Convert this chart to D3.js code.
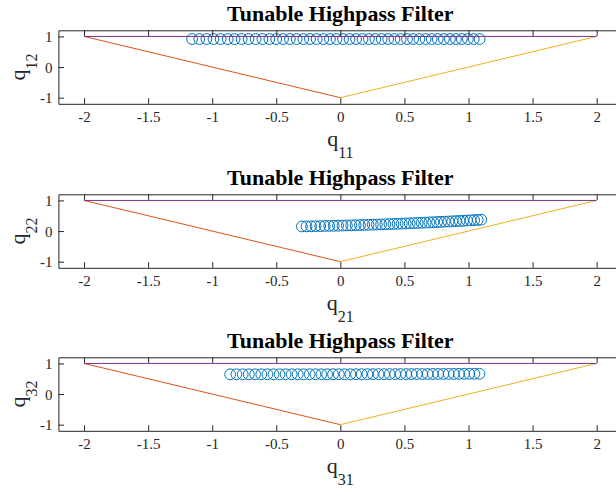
<!DOCTYPE html>
<html>
<head>
<meta charset="utf-8">
<script src="https://cdn.jsdelivr.net/npm/d3@7"></script>
<style>
  html, body { margin: 0; padding: 0; background: #fff; }
  svg { display: block; }
</style>
</head>
<body>
<svg id="chart" width="616" height="491"></svg>
<script>
// Pole trajectories of the tunable highpass filter, one panel per section.
const titleText = "Tunable Highpass Filter";
const xTickValues = [-2, -1.5, -1, -0.5, 0, 0.5, 1, 1.5, 2];
const xTickLabels = ["-2", "-1.5", "-1", "-0.5", "0", "0.5", "1", "1.5", "2"];
const yTickValues = [-1, 0, 1];
const yTickLabels = ["-1", "0", "1"];

// Stability triangle corners (q1, q2)
const triTop = [[-2, 1], [2, 1]];
const triLeft = [[-2, 1], [0, -1]];
const triRight = [[0, -1], [2, 1]];

// Section 1
const q11 = [-1.157, -1.101, -1.045, -0.990, -0.934, -0.879, -0.825, -0.770, -0.716, -0.661,
  -0.608, -0.554, -0.500, -0.447, -0.394, -0.341, -0.289, -0.237, -0.185, -0.133,
  -0.081, -0.030, 0.021, 0.072, 0.123, 0.173, 0.223, 0.273, 0.323, 0.373,
  0.422, 0.471, 0.520, 0.568, 0.617, 0.665, 0.713, 0.760, 0.808, 0.855,
  0.902, 0.948, 0.995, 1.041, 1.087];
const q12 = [0.915, 0.915, 0.915, 0.915, 0.915, 0.915, 0.915, 0.915, 0.915, 0.915,
  0.915, 0.915, 0.915, 0.915, 0.915, 0.915, 0.915, 0.915, 0.915, 0.915,
  0.915, 0.915, 0.915, 0.915, 0.915, 0.915, 0.915, 0.915, 0.915, 0.915,
  0.915, 0.915, 0.915, 0.915, 0.915, 0.915, 0.915, 0.915, 0.915, 0.915,
  0.915, 0.915, 0.915, 0.915, 0.915];

// Section 2
const q21 = [-0.300, -0.264, -0.228, -0.193, -0.157, -0.122, -0.087, -0.052, -0.018, 0.017,
  0.051, 0.085, 0.119, 0.153, 0.186, 0.220, 0.253, 0.285, 0.318, 0.351,
  0.383, 0.415, 0.447, 0.479, 0.510, 0.541, 0.573, 0.603, 0.634, 0.665,
  0.695, 0.725, 0.755, 0.785, 0.814, 0.844, 0.873, 0.902, 0.931, 0.959,
  0.988, 1.016, 1.044, 1.072, 1.099];
const q22 = [0.150, 0.153, 0.155, 0.158, 0.161, 0.165, 0.168, 0.171, 0.175, 0.179,
  0.183, 0.187, 0.191, 0.195, 0.199, 0.204, 0.208, 0.213, 0.217, 0.222,
  0.227, 0.232, 0.238, 0.243, 0.248, 0.253, 0.259, 0.264, 0.270, 0.276,
  0.282, 0.288, 0.294, 0.300, 0.306, 0.312, 0.318, 0.324, 0.331, 0.337,
  0.344, 0.350, 0.357, 0.363, 0.370];

// Section 3
const q31 = [-0.860, -0.811, -0.762, -0.714, -0.665, -0.617, -0.569, -0.522, -0.474, -0.427,
  -0.380, -0.333, -0.287, -0.240, -0.194, -0.148, -0.103, -0.057, -0.012, 0.033,
  0.078, 0.122, 0.166, 0.211, 0.254, 0.298, 0.342, 0.385, 0.428, 0.470,
  0.513, 0.555, 0.597, 0.639, 0.681, 0.722, 0.763, 0.804, 0.845, 0.886,
  0.926, 0.966, 1.006, 1.046, 1.085];
const q32 = [0.645, 0.645, 0.645, 0.645, 0.645, 0.645, 0.645, 0.645, 0.645, 0.645,
  0.645, 0.645, 0.645, 0.646, 0.646, 0.646, 0.646, 0.647, 0.647, 0.647,
  0.648, 0.648, 0.648, 0.649, 0.649, 0.650, 0.650, 0.651, 0.651, 0.652,
  0.652, 0.653, 0.654, 0.654, 0.655, 0.656, 0.656, 0.657, 0.658, 0.658,
  0.659, 0.660, 0.661, 0.662, 0.663];

const panels = [
  { xs: q11, ys: q12, xSub: "11", ySub: "12", top: 30.3 },
  { xs: q21, ys: q22, xSub: "21", ySub: "22", top: 194.3 },
  { xs: q31, ys: q32, xSub: "31", ySub: "32", top: 357.3 }
];

const axColor = "#262626";
const serif = "'Liberation Serif', 'Times New Roman', Times, serif";
const left = 58.4, plotW = 563.9, plotH = 73.5;
const tickLen = 5.6;

const svg = d3.select("#chart");

const x = d3.scaleLinear().domain([-2.2, 2.2]).range([0, plotW]);

panels.forEach(p => {
  const y = d3.scaleLinear().domain([-1.2, 1.2]).range([plotH, 0]);
  const g = svg.append("g").attr("transform", `translate(${left},${p.top})`);

  const clipId = "clip" + p.xSub;
  g.append("clipPath").attr("id", clipId)
    .append("rect").attr("x", 0).attr("y", 0).attr("width", plotW).attr("height", plotH);

  const plot = g.append("g").attr("clip-path", `url(#${clipId})`);

  // pole markers
  const pts = p.xs.map((v, i) => [v, p.ys[i]]);
  plot.selectAll("circle").data(pts).join("circle")
    .attr("cx", d => x(d[0]))
    .attr("cy", d => y(d[1]))
    .attr("r", 5.4)
    .attr("fill", "none")
    .attr("stroke", "#0072BD")
    .attr("stroke-width", 1);

  const line = d3.line().x(d => x(d[0])).y(d => y(d[1]));
  [[triLeft, "#D95319"], [triRight, "#EDB120"], [triTop, "#7E2F8E"]].forEach(([seg, col]) => {
    plot.append("path").attr("d", line(seg))
      .attr("fill", "none").attr("stroke", col).attr("stroke-width", 1);
  });

  // axes (ticks point inward, box on all four sides)
  const fmtX = d => xTickLabels[xTickValues.indexOf(d)];
  const fmtY = d => yTickLabels[yTickValues.indexOf(d)];

  const bottom = g.append("g").attr("transform", `translate(0,${plotH})`)
    .call(d3.axisBottom(x).tickValues(xTickValues).tickFormat(fmtX)
      .tickSizeInner(-tickLen).tickSizeOuter(0));
  bottom.selectAll("text").attr("y", 17.8).attr("dy", null);

  const topAx = g.append("g")
    .call(d3.axisTop(x).tickValues(xTickValues).tickFormat("")
      .tickSizeInner(-tickLen).tickSizeOuter(0));

  const leftAx = g.append("g")
    .call(d3.axisLeft(y).tickValues(yTickValues).tickFormat(fmtY)
      .tickSizeInner(-tickLen).tickSizeOuter(0));
  leftAx.selectAll("text").attr("x", -6).attr("dy", "0.34em");

  const rightAx = g.append("g").attr("transform", `translate(${plotW},0)`)
    .call(d3.axisRight(y).tickValues(yTickValues).tickFormat("")
      .tickSizeInner(-tickLen).tickSizeOuter(0));

  [bottom, topAx, leftAx, rightAx].forEach(a => {
    a.select(".domain").attr("stroke", axColor).attr("stroke-width", 1);
    a.selectAll(".tick line").attr("stroke", axColor).attr("stroke-width", 1);
    a.selectAll("text").attr("fill", axColor)
      .style("font-family", serif).style("font-size", "15px");
  });

  // title
  g.append("text")
    .attr("x", plotW / 2).attr("y", -9.5)
    .attr("text-anchor", "middle")
    .style("font-family", serif).style("font-size", "22px").style("font-weight", "bold")
    .attr("fill", "#000")
    .text(titleText);

  // x label q with subscript
  const xl = g.append("text")
    .attr("x", x(0)).attr("y", plotH + 42.4)
    .attr("text-anchor", "middle")
    .style("font-family", serif).attr("fill", axColor);
  xl.append("tspan").style("font-size", "22px").text("q");
  xl.append("tspan").style("font-size", "16px").attr("dy", 12).text(p.xSub);

  // y label q with subscript, rotated
  const yl = g.append("text")
    .attr("transform", `translate(${25 - left},${plotH / 2}) rotate(-90)`)
    .attr("text-anchor", "middle")
    .style("font-family", serif).attr("fill", axColor);
  yl.append("tspan").style("font-size", "22px").text("q");
  yl.append("tspan").style("font-size", "16px").attr("dy", 12).text(p.ySub);
});
</script>
</body>
</html>
